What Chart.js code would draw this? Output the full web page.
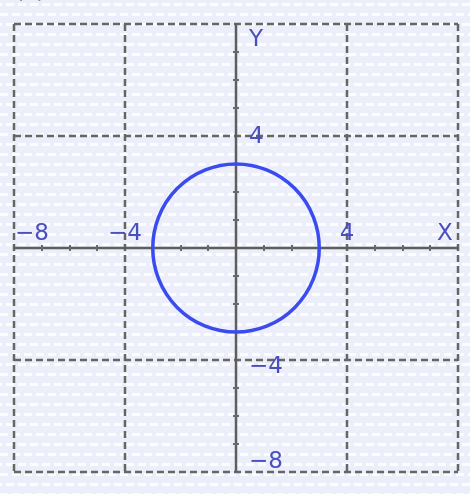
<!DOCTYPE html>
<html><head><meta charset="utf-8">
<script src="https://cdn.jsdelivr.net/npm/chart.js@4"></script>
<style>html,body{margin:0;padding:0;background:#eef0fa;overflow:hidden}#wrap{width:470px;height:494px;position:relative}</style>
</head><body><div id="wrap"><canvas id="c" width="470" height="494"></canvas></div>
<script>
// ---- data ----
const xRange = [-8, 8];
const yRange = [-8, 8];
const gridX = [-8, -4, 4, 8];
const gridY = [-8, -4, 4, 8];
const minorTicks = [-7, -6, -5, -3, -2, -1, 1, 2, 3, 5, 6, 7];
const xTickValues = [-8, -4, 4];
const xTickLabels = ['\u22128', '\u22124', '4'];
const yTickValues = [4, -4, -8];
const yTickLabels = ['4', '\u22124', '\u22128'];
const axisNames = ['X', 'Y'];
const circleCenter = [0, 0];
const circleRadius = [3];
const panelLabel = '(c)';

const TEXT = '#4a4fc0';
const FONT = '23px "DejaVu Sans", Verdana, sans-serif';

const plotPlugin = {
  id: 'plotPlugin',
  beforeDraw(chart) {
    const ctx = chart.ctx, W = chart.width, H = chart.height;
    const xs = chart.scales.x, ys = chart.scales.y, a = chart.chartArea;
    ctx.save();
    ctx.fillStyle = '#eceef9';
    ctx.fillRect(0, 0, W, H);
    ctx.fillStyle = 'rgba(255,255,255,0.85)';
    for (let r = 0, y = 3; y < H; y += 10, r++) {
      for (let x = (r % 2) * 6 - 6; x < W; x += 12) ctx.fillRect(x, y, 8, 3);
    }
    // panel label (cut off at top)
    ctx.fillStyle = '#333';
    ctx.font = FONT;
    ctx.textBaseline = 'alphabetic';
    ctx.fillText(panelLabel, 15, -2);
    // dashed grid
    ctx.strokeStyle = '#666';
    ctx.lineWidth = 2.5;
    ctx.setLineDash([7, 4]);
    gridX.forEach(v => {
      const px = Math.round(xs.getPixelForValue(v));
      ctx.beginPath(); ctx.moveTo(px, a.top); ctx.lineTo(px, a.bottom); ctx.stroke();
    });
    gridY.forEach(v => {
      const py = Math.round(ys.getPixelForValue(v));
      ctx.beginPath(); ctx.moveTo(a.left, py); ctx.lineTo(a.right, py); ctx.stroke();
    });
    ctx.setLineDash([]);
    // axes
    const x0 = Math.round(xs.getPixelForValue(0)), y0 = Math.round(ys.getPixelForValue(0));
    ctx.strokeStyle = '#5e5e5e';
    ctx.beginPath(); ctx.moveTo(a.left, y0); ctx.lineTo(a.right, y0); ctx.stroke();
    ctx.beginPath(); ctx.moveTo(x0, a.top); ctx.lineTo(x0, a.bottom); ctx.stroke();
    // minor ticks
    ctx.lineWidth = 2;
    ctx.strokeStyle = '#6a6a6a';
    minorTicks.forEach(v => {
      const px = Math.round(xs.getPixelForValue(v));
      ctx.beginPath(); ctx.moveTo(px, y0 - 3); ctx.lineTo(px, y0 + 3); ctx.stroke();
      const py = Math.round(ys.getPixelForValue(v));
      ctx.beginPath(); ctx.moveTo(x0 - 3, py); ctx.lineTo(x0 + 3, py); ctx.stroke();
    });
    ctx.restore();
  },
  afterDatasetsDraw(chart) {
    const ctx = chart.ctx, xs = chart.scales.x, ys = chart.scales.y, a = chart.chartArea;
    ctx.save();
    // circle via scales
    const cx = xs.getPixelForValue(circleCenter[0]), cy = ys.getPixelForValue(circleCenter[1]);
    const rx = Math.abs(xs.getPixelForValue(circleCenter[0] + circleRadius[0]) - cx);
    const ry = Math.abs(ys.getPixelForValue(circleCenter[1] + circleRadius[0]) - cy);
    ctx.strokeStyle = '#3a4cf0';
    ctx.lineWidth = 3.5;
    ctx.beginPath(); ctx.ellipse(cx, cy, rx, ry, 0, 0, Math.PI * 2); ctx.stroke();
    // labels
    const x0 = xs.getPixelForValue(0), y0 = ys.getPixelForValue(0);
    ctx.font = FONT;
    ctx.fillStyle = TEXT;
    ctx.textBaseline = 'alphabetic';
    xTickValues.forEach((v, i) => {
      const px = xs.getPixelForValue(v);
      const w = ctx.measureText(xTickLabels[i]).width;
      let left = px - w / 2;
      if (left < a.left) left = a.left + 1;
      ctx.textAlign = 'left';
      ctx.fillText(xTickLabels[i], left, y0 - 8);
    });
    ctx.textAlign = 'center';
    ctx.fillText(axisNames[0], xs.getPixelForValue(xRange[1]) - 13, y0 - 8);
    ctx.textAlign = 'left';
    ctx.textBaseline = 'top';
    ctx.fillText(axisNames[1], x0 + 13, a.top + 5);
    yTickValues.forEach((v, i) => {
      const py = ys.getPixelForValue(v);
      if (v === yRange[0]) { ctx.textBaseline = 'bottom'; ctx.fillText(yTickLabels[i], x0 + 13, py + 2); }
      else if (v > 0) { ctx.textBaseline = 'middle'; ctx.fillText(yTickLabels[i], x0 + 13, py + 1); }
      else { ctx.textBaseline = 'top'; ctx.fillText(yTickLabels[i], x0 + 13, py - 4); }
    });
    ctx.restore();
  }
};

new Chart(document.getElementById('c'), {
  type: 'scatter',
  data: { datasets: [{ data: [{ x: circleCenter[0], y: circleCenter[1] }], pointRadius: 0 }] },
  options: {
    responsive: false,
    animation: false,
    events: [],
    layout: { padding: { left: 14, right: 12, top: 24, bottom: 22 } },
    plugins: { legend: { display: false }, tooltip: { enabled: false } },
    scales: {
      x: { type: 'linear', min: xRange[0], max: xRange[1], display: false },
      y: { type: 'linear', min: yRange[0], max: yRange[1], display: false }
    }
  },
  plugins: [plotPlugin]
});
</script></body></html>
